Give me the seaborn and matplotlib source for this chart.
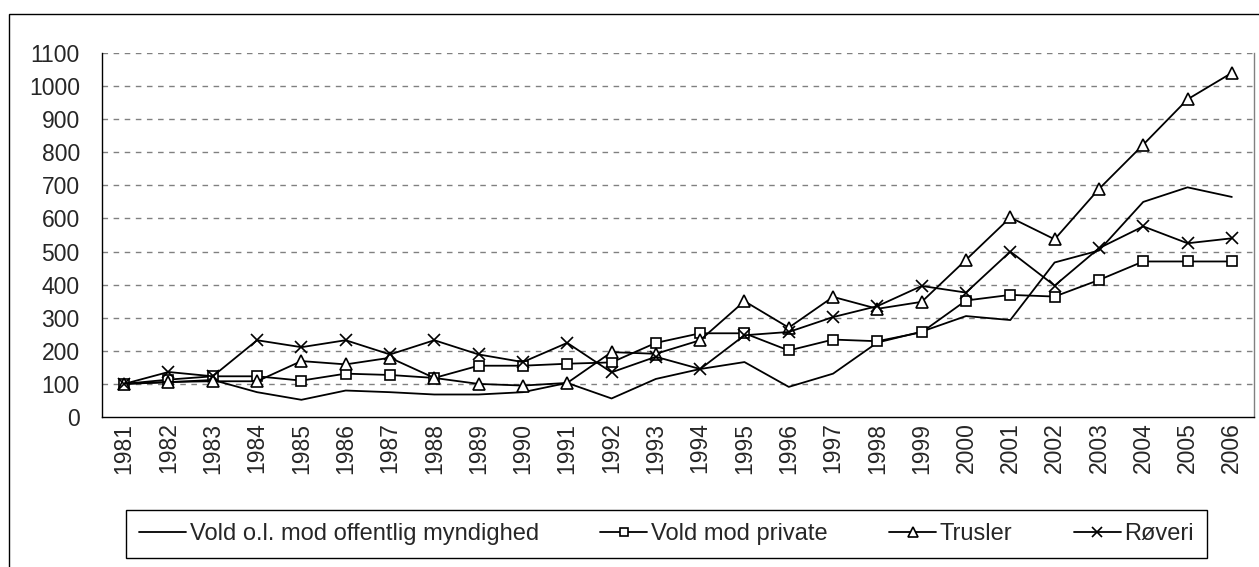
import numpy as np
import pandas as pd
import matplotlib
matplotlib.use("Agg")
import matplotlib.pyplot as plt
import matplotlib.patches as patches
import seaborn as sns

# --------------------------------------------
# Data (index, 1981 = 100)
# --------------------------------------------
years = [str(y) for y in range(1981, 2007)]

vold_offentlig = [100, 105, 112, 75, 52, 80, 75, 68, 68, 75, 103, 56, 115,
                  145, 166, 91, 131, 225, 258, 305, 293, 467, 503, 650, 694, 665]
vold_private = [100, 113, 123, 123, 110, 131, 127, 118, 155, 155, 161, 165, 224,
                253, 253, 201, 234, 229, 256, 352, 369, 364, 414, 470, 470, 470]
trusler = [100, 106, 108, 108, 169, 159, 179, 118, 100, 95, 103, 196, 191,
           232, 350, 270, 363, 327, 348, 475, 603, 537, 689, 823, 960, 1040]
roveri = [100, 136, 123, 232, 211, 232, 189, 232, 189, 166, 224, 135, 182,
          145, 247, 257, 302, 335, 396, 376, 500, 397, 510, 576, 525, 540]

series_names = ["Vold o.l. mod offentlig myndighed", "Vold mod private",
                "Trusler", "Røveri"]
series_values = [vold_offentlig, vold_private, trusler, roveri]
series_markers = [None, "s", "^", "x"]
marker_sizes = [0, 7, 9, 9]

FS = 16.5

# --------------------------------------------
# Figure setup
# --------------------------------------------
sns.set_style("white")
plt.rcParams["font.family"] = ["Liberation Sans", "DejaVu Sans"]

fig = plt.figure(figsize=(12.59, 5.67), dpi=100)
ax = fig.add_axes([102 / 1259, 1 - 417 / 567, (1254 - 102) / 1259, (417 - 53) / 567])

pos = np.arange(len(years))

for name, vals, mk, ms in zip(series_names, series_values, series_markers, marker_sizes):
    kw = dict(color="black", linewidth=1.3, label=name, ax=ax)
    if mk is not None:
        kw.update(marker=mk, markersize=ms, markerfacecolor="white",
                  markeredgecolor="black", markeredgewidth=1.2)
    sns.lineplot(x=pos, y=vals, **kw)

# --------------------------------------------
# Axes styling
# --------------------------------------------
ax.set_xlim(-0.5, len(years) - 0.5)
ax.set_ylim(0, 1100)
ax.set_yticks(range(0, 1101, 100))
ax.set_xticks(pos)
ax.set_xticklabels(years, rotation=90, fontsize=FS)
ax.set_xticks(np.arange(-0.5, len(years), 1), minor=True)
ax.tick_params(axis="x", which="major", length=0, pad=4)
ax.tick_params(axis="x", which="minor", length=7, width=1, color="black", direction="out")
ax.tick_params(axis="y", length=7, width=1, color="black", direction="out",
               labelsize=FS, pad=9)

for y in range(100, 1101, 100):
    ax.axhline(y, color="#808080", linewidth=1, linestyle=(0, (4, 4)), zorder=0)

ax.spines["top"].set_visible(False)
ax.spines["right"].set_color("#808080")
ax.spines["left"].set_color("black")
ax.spines["bottom"].set_color("black")
for s in ax.spines.values():
    s.set_linewidth(1)

ax.get_legend().remove()
handles, labels = ax.get_legend_handles_labels()
leg = fig.legend(handles, labels, loc="center", ncol=4,
                 bbox_to_anchor=(666.5 / 1259, 1 - 534 / 567),
                 fontsize=17, frameon=True, fancybox=False, edgecolor="black",
                 framealpha=1, handlelength=2.0, handletextpad=0.15,
                 columnspacing=2.6, borderpad=0.55, borderaxespad=0,
                 markerscale=0.75)
leg.get_frame().set_linewidth(1)

# outer chart border
fig.patches.append(patches.Rectangle((9 / 1259, -0.02), 1.1, 1 - 14 / 567 + 0.02,
                                     transform=fig.transFigure, fill=False,
                                     edgecolor="black", linewidth=1))

fig.savefig("out.png", dpi=100)
